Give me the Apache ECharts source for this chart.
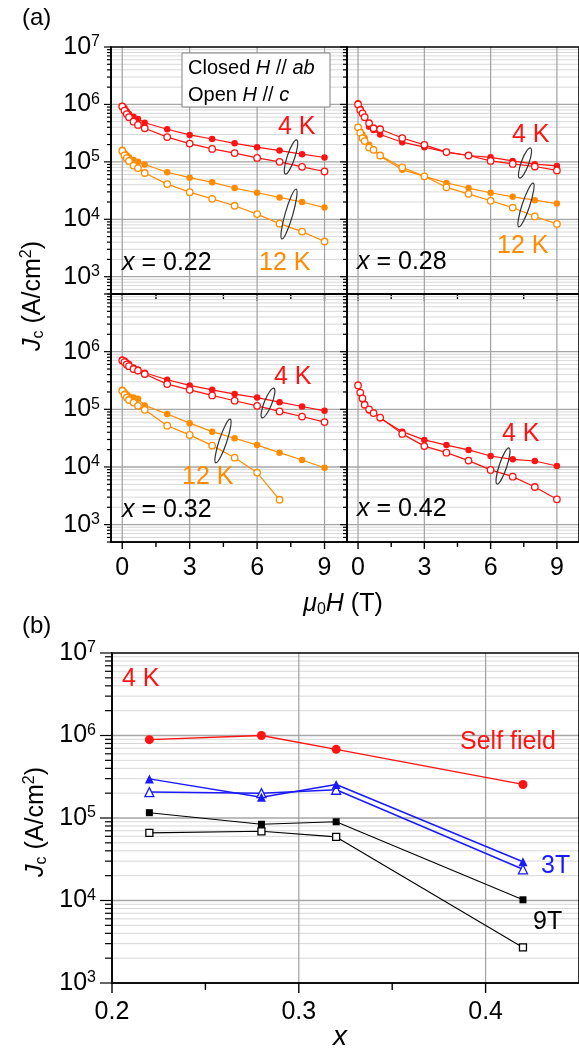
<!DOCTYPE html>
<html><head><meta charset="utf-8">
<script src="https://cdn.jsdelivr.net/npm/echarts@6/dist/echarts.min.js"></script>
<style>html,body{margin:0;padding:0;background:#fff}#c{width:579px;height:1052px}</style>
</head><body><div id="c"></div>
<script>
const FONT = '"Liberation Sans", Arial, sans-serif';
const RED = '#ff1212', ORANGE = '#ff8c00', BLUE = '#1a1aff', BLACK = '#000000';

// ---------- panel (a): Jc vs field ----------
const fieldT = [0, 0.1, 0.2, 0.3, 0.5, 0.7, 1, 2, 3, 4, 5, 6, 7, 8, 9];

const x022_4K_closed  = [9.4e5, 8.7e5, 7.6e5, 6.8e5, 6.1e5, 5.6e5, 4.8e5, 3.7e5, 2.95e5, 2.5e5, 2.1e5, 1.8e5, 1.57e5, 1.36e5, 1.19e5];
const x022_4K_open    = [9.2e5, 7.8e5, 6.8e5, 6.0e5, 5.0e5, 4.4e5, 3.85e5, 2.7e5, 2.08e5, 1.68e5, 1.42e5, 1.17e5, 1.0e5, 8.2e4, 6.8e4];
const x022_12K_closed = [1.62e5, 1.42e5, 1.30e5, 1.20e5, 1.08e5, 1.0e5, 9.0e4, 6.6e4, 5.3e4, 4.4e4, 3.5e4, 2.9e4, 2.4e4, 2.0e4, 1.6e4];
const x022_12K_open   = [1.55e5, 1.30e5, 1.16e5, 1.04e5, 8.6e4, 7.8e4, 6.4e4, 4.1e4, 2.97e4, 2.27e4, 1.72e4, 1.23e4, 8.4e3, 6.1e3, 4.1e3];

const x028_4K_closed  = [1.05e6, 8.4e5, 7.0e5, 5.9e5, 4.1e5, 3.6e5, 3.0e5, 2.2e5, 1.8e5, 1.48e5, 1.29e5, 1.2e5, 1.04e5, 9.1e4, 8.5e4];
const x028_4K_open    = [1.0e6, 8.0e5, 7.0e5, 6.0e5, 4.7e5, 3.85e5, 3.7e5, 2.6e5, 1.98e5, 1.48e5, 1.29e5, 1.04e5, 9.2e4, 8.3e4, 7.1e4];
const x028_12K_closed = [4.0e5, 3.4e5, 3.0e5, 2.6e5, 1.98e5, 1.62e5, 1.27e5, 7.3e4, 5.6e4, 4.3e4, 3.5e4, 2.9e4, 2.46e4, 2.15e4, 1.88e4];
const x028_12K_open   = [4.0e5, 3.2e5, 2.6e5, 2.3e5, 1.77e5, 1.62e5, 1.29e5, 8.0e4, 5.6e4, 3.6e4, 2.77e4, 2.1e4, 1.6e4, 1.12e4, 8.3e3];

const x032_4K_closed  = [7.3e5, 7.0e5, 6.5e5, 6.1e5, 5.3e5, 4.9e5, 4.3e5, 3.26e5, 2.6e5, 2.18e5, 1.84e5, 1.6e5, 1.33e5, 1.12e5, 9.4e4];
const x032_4K_open    = [7.0e5, 6.6e5, 6.0e5, 5.6e5, 5.0e5, 4.7e5, 4.1e5, 2.74e5, 2.18e5, 1.74e5, 1.41e5, 1.15e5, 9.2e4, 7.5e4, 6.0e4];
const x032_12K_closed = [2.18e5, 2.0e5, 1.8e5, 1.67e5, 1.6e5, 1.52e5, 1.17e5, 8.3e4, 5.75e4, 4.1e4, 3.15e4, 2.4e4, 1.77e4, 1.32e4, 9.7e3];
const x032_12K_open   = [2.1e5, 1.79e5, 1.6e5, 1.45e5, 1.31e5, 1.15e5, 9.8e4, 5.2e4, 3.6e4, 2.35e4, 1.45e4, 8.0e3, 2.7e3, null, null];

const x042_4K_closed  = [2.67e5, 1.9e5, 1.5e5, 1.2e5, 9.5e4, 8.8e4, 7.0e4, 4.1e4, 2.95e4, 2.4e4, 1.98e4, 1.55e4, 1.36e4, 1.27e4, 1.04e4];
const x042_4K_open    = [2.6e5, 1.95e5, 1.55e5, 1.2e5, 1.0e5, 8.6e4, 7.2e4, 3.75e4, 2.3e4, 1.77e4, 1.29e4, 8.9e3, 6.8e3, 4.5e3, 2.75e3];

// ---------- panel (b): Jc vs x at 4 K ----------
const xComp     = [0.22, 0.28, 0.32, 0.42];
const selfField = [8.9e5, 1.0e6, 6.8e5, 2.55e5];
const closed3T  = [2.98e5, 1.79e5, 2.55e5, 2.95e4];
const open3T    = [2.06e5, 2.0e5, 2.2e5, 2.39e4];
const closed9T  = [1.16e5, 8.4e4, 9.0e4, 1.02e4];
const open9T    = [6.6e4, 6.9e4, 5.9e4, 2.7e3];

// ---------- ticks ----------
const hTickLabels = [0, 3, 6, 9];
const hMinorTicks = [1.5, 4.5, 7.5];
const xTickLabels = [0.2, 0.3, 0.4];
const xMinorTicks = [0.25, 0.35];
const yRangeA = [500, 1e7];
const yRangeB = [1e3, 1e7];

const grids = [
  {left: 111, top: 47, width: 236, height: 247},
  {left: 347, top: 47, width: 236, height: 247},
  {left: 111, top: 294, width: 236, height: 248},
  {left: 347, top: 294, width: 236, height: 248},
  {left: 112, top: 653, width: 471, height: 330}
].map(g => Object.assign({show: true, borderColor: '#000', borderWidth: 1.6, backgroundColor: 'transparent', z: 2}, g));

function yFmt(hideTop) {
  return function (v) {
    const l = Math.log10(v), e = Math.round(l);
    if (Math.abs(l - e) > 0.01) return '';
    if (hideTop && e === 7) return '';
    return '{b|10}{s|' + e + '}';
  };
}
const yRich = {
  b: {fontSize: 25, fontFamily: FONT, color: '#000', lineHeight: 26},
  s: {fontSize: 16, fontFamily: FONT, color: '#000', lineHeight: 16, verticalAlign: 'top'}
};

const xAxes = [], yAxes = [];
for (let i = 0; i < 4; i++) {
  xAxes.push({type: 'value', gridIndex: i, min: -0.5, max: 10, z: 4,
    axisLine: {show: true, onZero: false, lineStyle: {color: '#000', width: 1.6}},
    axisTick: {show: false}, splitLine: {show: false},
    axisLabel: {show: i >= 2, customValues: hTickLabels, fontSize: 25, fontFamily: FONT, color: '#000', margin: 14}});
  yAxes.push({type: 'log', logBase: 10, gridIndex: i, min: yRangeA[0], max: yRangeA[1], z: 4,
    axisLine: {show: true, onZero: false, lineStyle: {color: '#000', width: 1.6}},
    axisTick: {show: false}, splitLine: {show: false}, minorTick: {show: false},
    axisLabel: {show: i === 0 || i === 2, formatter: yFmt(i === 2), rich: yRich, margin: 11}});
}
xAxes.push({type: 'value', gridIndex: 4, min: 0.2, max: 0.45, z: 4,
  axisLine: {show: true, onZero: false, lineStyle: {color: '#000', width: 1.6}},
  axisTick: {show: false}, splitLine: {show: false},
  axisLabel: {customValues: xTickLabels, fontSize: 25, fontFamily: FONT, color: '#000', margin: 17}});
yAxes.push({type: 'log', logBase: 10, gridIndex: 4, min: yRangeB[0], max: yRangeB[1], z: 4,
  axisLine: {show: true, onZero: false, lineStyle: {color: '#000', width: 1.6}},
  axisTick: {show: false}, splitLine: {show: false}, minorTick: {show: false},
  axisLabel: {formatter: yFmt(false), rich: yRich, margin: 16}});

// grid lines + ticks drawn through the axes' scales
function decoSeries(gi, range, xRef, yRef, vLines, xMaj, xMin, tick) {
  const data = [];
  const e0 = Math.floor(Math.log10(range[0])), e1 = Math.ceil(Math.log10(range[1]));
  for (let e = e0; e <= e1; e++) {
    for (let m = 1; m <= 9; m++) {
      const v = m * Math.pow(10, e);
      if (v < range[0] * 0.999 || v > range[1] * 1.001) continue;
      const edge = Math.abs(v - range[0]) < 1e-6 * v || Math.abs(v - range[1]) < 1e-6 * v;
      data.push([xRef, v, m === 1 ? 2 : 0, m === 1 ? tick.yMaj : tick.yMin, edge ? 0 : 1]);
    }
  }
  vLines.forEach(x => data.push([x, yRef, 1, 0, 1]));
  xMaj.forEach(x => data.push([x, yRef, 3, tick.xMaj, 0]));
  xMin.forEach(x => data.push([x, yRef, 3, tick.xMin, 0]));
  return {
    type: 'custom', xAxisIndex: gi, yAxisIndex: gi, z: 1, silent: true, clip: false,
    dimensions: ['x', 'y', 'k', 'len', 'g'], encode: {x: 'x', y: 'y'}, data,
    renderItem: function (params, api) {
      const cs = params.coordSys;
      const kind = api.value(2), len = api.value(3);
      if (kind === 1) {
        const x = api.coord([api.value(0), yRef])[0];
        return {type: 'line', shape: {x1: x, y1: cs.y, x2: x, y2: cs.y + cs.height}, style: {stroke: '#a0a0a0', lineWidth: 1.2}};
      }
      if (kind === 3) {
        const x = api.coord([api.value(0), yRef])[0];
        const yb = cs.y + cs.height;
        return {type: 'line', shape: {x1: x, y1: yb, x2: x, y2: yb + len}, style: {stroke: '#000', lineWidth: 1.4}};
      }
      const y = api.coord([xRef, api.value(1)])[1];
      const major = kind === 2;
      const ch = [];
      if (api.value(4)) ch.push({type: 'line', shape: {x1: cs.x, y1: y, x2: cs.x + cs.width, y2: y},
        style: {stroke: major ? '#a6a6a6' : '#d8d8d8', lineWidth: major ? 1.3 : 1}});
      ch.push({type: 'line', shape: {x1: cs.x - len, y1: y, x2: cs.x, y2: y}, style: {stroke: '#000', lineWidth: 1.2}});
      return {type: 'group', children: ch};
    }
  };
}

function lineSeries(gi, xs, ys, color, open, symbol, size, lw) {
  return {
    type: 'line', xAxisIndex: gi, yAxisIndex: gi, z: 3, animation: false,
    data: xs.map((x, i) => [x, ys[i]]).filter(d => d[1] != null),
    symbol: symbol, symbolSize: size, showSymbol: true,
    lineStyle: {color: color, width: lw},
    itemStyle: {color: open ? '#ffffff' : color, borderColor: color, borderWidth: open ? 1.3 : 0},
    emphasis: {disabled: true}
  };
}

const tickA = {yMaj: 7, yMin: 4, xMaj: 7, xMin: 5};
const tickB = {yMaj: 12, yMin: 7, xMaj: 10, xMin: 7};

const series = [];
for (let i = 0; i < 4; i++) series.push(decoSeries(i, yRangeA, 0, 1e4, hTickLabels, hTickLabels, hMinorTicks, tickA));
series.push(decoSeries(4, yRangeB, 0.3, 1e4, [0.3, 0.4], xTickLabels, xMinorTicks, tickB));

const panelSets = [
  [x022_4K_closed, x022_4K_open, x022_12K_closed, x022_12K_open],
  [x028_4K_closed, x028_4K_open, x028_12K_closed, x028_12K_open],
  [x032_4K_closed, x032_4K_open, x032_12K_closed, x032_12K_open],
  [x042_4K_closed, x042_4K_open, null, null]
];
panelSets.forEach((s, gi) => {
  if (s[2]) series.push(lineSeries(gi, fieldT, s[2], ORANGE, false, 'circle', 6.5, 1.2));
  if (s[3]) series.push(lineSeries(gi, fieldT, s[3], ORANGE, true, 'circle', 6.5, 1.2));
  series.push(lineSeries(gi, fieldT, s[0], RED, false, 'circle', 6.5, 1.2));
  series.push(lineSeries(gi, fieldT, s[1], RED, true, 'circle', 6.5, 1.2));
});
series.push(lineSeries(4, xComp, selfField, RED, false, 'circle', 9, 1.3));
series.push(lineSeries(4, xComp, open3T, BLUE, true, 'triangle', 9, 1.5));
series.push(lineSeries(4, xComp, closed3T, BLUE, false, 'triangle', 9, 1.5));
series.push(lineSeries(4, xComp, open9T, BLACK, true, 'rect', 7, 1.1));
series.push(lineSeries(4, xComp, closed9T, BLACK, false, 'rect', 7, 1.1));

// ---------- annotations ----------
function txt(x, y, text, color, size, align, extra) {
  const base = {fontSize: size, fontFamily: FONT, fill: color, lineHeight: size + 3};
  return Object.assign({
    type: 'text', x: x, y: y, z: 20, silent: true,
    style: {
      text: text, fill: color, fontSize: size, fontFamily: FONT,
      align: align || 'left', textAlign: align || 'left', verticalAlign: 'middle', textVerticalAlign: 'middle',
      rich: {
        n: base,
        i: Object.assign({}, base, {fontStyle: 'italic'}),
        sb: {fontSize: Math.round(size * 0.62), fontFamily: FONT, fill: color, lineHeight: Math.round(size * 0.62), verticalAlign: 'bottom'},
        sp: {fontSize: Math.round(size * 0.62), fontFamily: FONT, fill: color, lineHeight: Math.round(size * 0.62), verticalAlign: 'top'}
      }
    }
  }, extra || {});
}
function ell(cx, cy, ry, rot) {
  return {type: 'ellipse', x: cx, y: cy, rotation: rot, z: 20, silent: true,
    shape: {cx: 0, cy: 0, rx: 3.8, ry: ry},
    style: {fill: 'none', stroke: '#333', lineWidth: 1.2}};
}

const graphics = [
  txt(22, 18, '(a)', '#000', 24),
  txt(22, 626, '(b)', '#000', 24),
  {type: 'rect', z: 15, silent: true, shape: {x: 182, y: 53, width: 148, height: 54},
    style: {fill: '#fff', stroke: '#808080', lineWidth: 1}},
  txt(188, 68, '{n|Closed }{i|H}{n| // }{i|ab}', '#000', 20),
  txt(188, 95, '{n|Open }{i|H}{n| // }{i|c}', '#000', 20),
  // x = 0.22
  txt(278, 127, '4 K', RED, 25), txt(259, 263, '12 K', ORANGE, 25), txt(122, 263, '{i|x}{n| = 0.22}', '#000', 25),
  // x = 0.28
  txt(512, 135, '4 K', RED, 25), txt(497, 246, '12 K', ORANGE, 25), txt(357, 262, '{i|x}{n| = 0.28}', '#000', 25),
  // x = 0.32
  txt(274, 377, '4 K', RED, 25), txt(182, 477, '12 K', ORANGE, 25), txt(122, 510, '{i|x}{n| = 0.32}', '#000', 25),
  // x = 0.42
  txt(502, 434, '4 K', RED, 25), txt(357, 509, '{i|x}{n| = 0.42}', '#000', 25),
  // pair markers
  ell(291, 157, 18, -0.32), ell(289, 214, 26, -0.28),
  ell(525, 163, 16, -0.35), ell(526, 205, 23, -0.32),
  ell(268, 403, 16, -0.38), ell(223, 441, 23, -0.32),
  ell(503, 466, 19, -0.32),
  // axis titles
  txt(343, 604, '{i|μ}{sb|0}{i|H}{n| (T)}', '#000', 25, 'center'),
  txt(33, 296, '{i|J}{sb|c}{n| (A/cm}{sp|2}{n|)}', '#000', 25, 'center', {rotation: Math.PI / 2}),
  txt(36, 822, '{i|J}{sb|c}{n| (A/cm}{sp|2}{n|)}', '#000', 25, 'center', {rotation: Math.PI / 2}),
  txt(340, 1037, '{i|x}', '#000', 28, 'center'),
  // panel b labels
  txt(122, 679, '4 K', RED, 25),
  txt(460, 742, 'Self field', RED, 25),
  txt(541, 866, '3T', BLUE, 25),
  txt(533, 922, '9T', '#000', 25)
];

const chart = echarts.init(document.getElementById('c'), null, {renderer: 'canvas'});
chart.setOption({
  animation: false,
  backgroundColor: '#ffffff',
  grid: grids,
  xAxis: xAxes,
  yAxis: yAxes,
  series: series,
  graphic: {elements: graphics}
});
</script>
</body></html>
